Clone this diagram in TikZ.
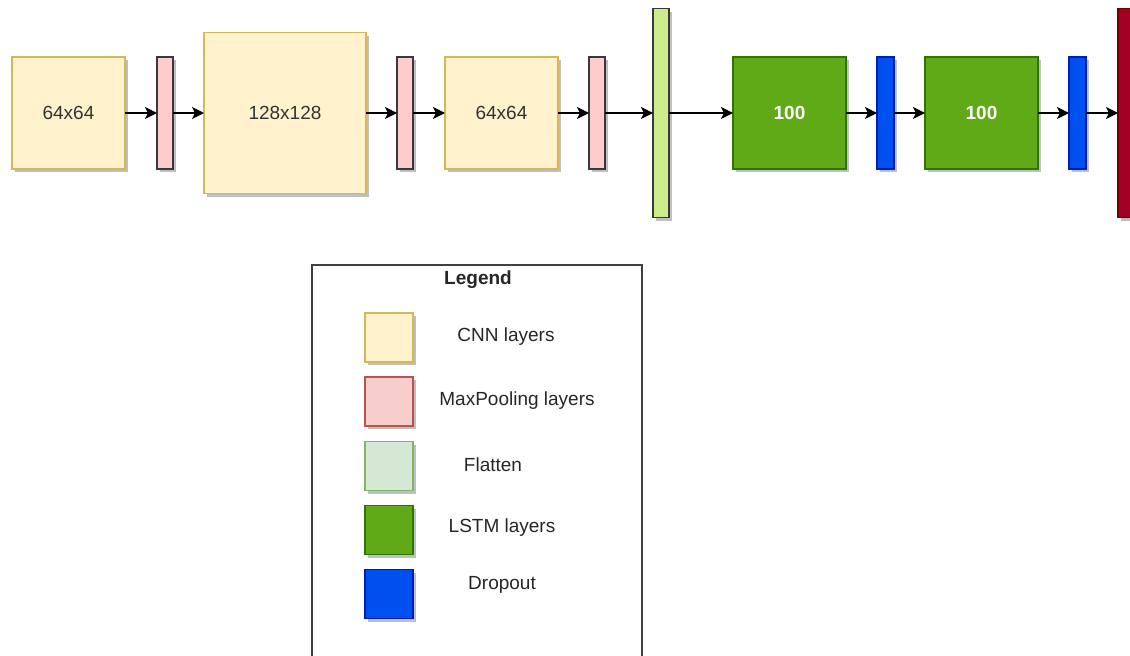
\documentclass[tikz,border=0pt]{standalone}
\usepackage{fontspec}
\setmainfont{Liberation Sans}
\usetikzlibrary{arrows.meta,shadows}

\definecolor{cnnfill}{HTML}{FFF2CC}
\definecolor{cnnline}{HTML}{D6B656}
\definecolor{poolfill}{HTML}{FFCCCC}
\definecolor{keypoolfill}{HTML}{F8CECC}
\definecolor{keypoolline}{HTML}{B85450}
\definecolor{flatfill}{HTML}{CDEB8B}
\definecolor{keyflatfill}{HTML}{D5E8D4}
\definecolor{keyflatline}{HTML}{82B366}
\definecolor{darkline}{HTML}{36393D}
\definecolor{lstmfill}{HTML}{60A917}
\definecolor{lstmline}{HTML}{2D7600}
\definecolor{dropfill}{HTML}{0050EF}
\definecolor{dropline}{HTML}{001DBC}
\definecolor{densefill}{HTML}{A20025}
\definecolor{denseline}{HTML}{6F0000}

\tikzset{
  layer/.style={draw, inner sep=0pt, outer sep=0pt, line width=1.1pt,
    font=\fontsize{19}{23}\selectfont, text=black!80,
    drop shadow={shadow xshift=3pt, shadow yshift=-3pt, opacity=0.25, fill=black}},
  cnn/.style={layer, fill=cnnfill, draw=cnnline, minimum width=113pt, minimum height=112pt},
  pool/.style={layer, fill=poolfill, draw=darkline, minimum width=16pt, minimum height=112pt},
  flat/.style={layer, fill=flatfill, draw=darkline, minimum width=16pt, minimum height=209pt},
  lstm/.style={layer, fill=lstmfill, draw=lstmline, text=white, font=\fontsize{19}{23}\selectfont\bfseries,
    minimum width=113pt, minimum height=112pt},
  drop/.style={layer, fill=dropfill, draw=dropline, minimum width=17pt, minimum height=112pt},
  dense/.style={layer, fill=densefill, draw=denseline, minimum width=16pt, minimum height=209pt},
  swatch/.style={layer, minimum width=48pt, minimum height=49pt},
  keytext/.style={font=\fontsize{19}{23}\selectfont, text=black!85, inner sep=0pt},
  flow/.style={-{Stealth[length=12pt,width=12pt,inset=3pt]}, line width=1.6pt},
}

\begin{document}
\begin{tikzpicture}[x=1pt, y=-1pt]
  \clip (0,0) rectangle (1130,656);

  % CNN part
  \node[cnn] (cnnA) at (68.5,113) {64x64};
  \node[pool] (poolA) at (165,113) {};
  \node[cnn, minimum width=162pt, minimum height=161pt] (cnnB) at (285,113) {128x128};
  \node[pool] (poolB) at (405,113) {};
  \node[cnn] (cnnC) at (501.5,113) {64x64};
  \node[pool] (poolC) at (597,113) {};
  \node[flat] (flatten) at (661,113) {};

  % LSTM part
  \node[lstm] (lstmA) at (789.5,113) {100};
  \node[drop] (dropA) at (885.5,113) {};
  \node[lstm] (lstmB) at (981.5,113) {100};
  \node[drop] (dropB) at (1077.5,113) {};
  \node[dense] (output) at (1126,113) {};

  % Arrows
  \draw[flow] (cnnA) -- (poolA);
  \draw[flow] (poolA) -- (cnnB);
  \draw[flow] (cnnB) -- (poolB);
  \draw[flow] (poolB) -- (cnnC);
  \draw[flow] (cnnC) -- (poolC);
  \draw[flow] (poolC) -- (flatten);
  \draw[flow] (flatten) -- (lstmA);
  \draw[flow] (lstmA) -- (dropA);
  \draw[flow] (dropA) -- (lstmB);
  \draw[flow] (lstmB) -- (dropB);
  \draw[flow] (dropB) -- (output);

  % Legend box
  \draw[line width=1.5pt, draw=black!75] (312,265) rectangle (642,700);
  \node[keytext, font=\fontsize{19}{23}\selectfont\bfseries] (keytitle) at (478,280) {Legend};

  \node[swatch, fill=cnnfill, draw=cnnline] (keycnn) at (389,337.5) {};
  \node[swatch, fill=keypoolfill, draw=keypoolline] (keypool) at (389,401.5) {};
  \node[swatch, fill=keyflatfill, draw=keyflatline] (keyflat) at (389,466) {};
  \node[swatch, fill=lstmfill, draw=lstmline] (keylstm) at (389,530) {};
  \node[swatch, fill=dropfill, draw=dropline] (keydrop) at (389,594) {};

  \node[keytext] (txtcnn) at (506,337) {CNN layers};
  \node[keytext] (txtpool) at (517,401) {MaxPooling layers};
  \node[keytext] (txtflat) at (493,465) {Flatten};
  \node[keytext] (txtlstm) at (502,528) {LSTM layers};
  \node[keytext] (txtdrop) at (502,585) {Dropout};
\end{tikzpicture}
\end{document}
